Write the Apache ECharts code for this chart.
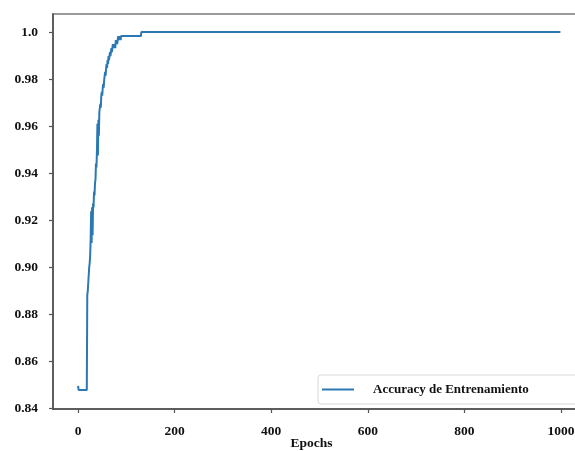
<!DOCTYPE html>
<html>
<head>
<meta charset="utf-8">
<script src="https://cdn.jsdelivr.net/npm/echarts@6/dist/echarts.min.js"></script>
<style>
  html, body { margin: 0; padding: 0; background: #fff; }
</style>
</head>
<body>
<div id="acc_chart" style="width:575px;height:451px;"></div>
<script>
  // training accuracy (epoch -> accuracy)
  var epochs = [0, 1, 18, 19, 20, 21, 22, 23, 24, 25, 26, 27, 28, 29, 30, 31, 32, 33, 34, 35, 36, 37, 38, 39,
    40, 41, 42, 43, 44, 45, 46, 47, 48, 49, 50, 51, 52, 53, 54, 55, 56, 57, 58, 59, 60, 61, 62, 63,
    64, 65, 66, 67, 68, 69, 70, 71, 72, 73, 74, 75, 76, 77, 78, 79, 80, 81, 82, 83, 84, 85, 86, 87,
    88, 89, 90, 130, 131, 999]
  var accuracy = [0.8494, 0.8477, 0.8477, 0.8881, 0.8898, 0.8932, 0.8966, 0.9000, 0.9017, 0.9051, 0.9119, 0.9237,
    0.9102, 0.9254, 0.9136, 0.9271, 0.9254, 0.9322, 0.9305, 0.9356, 0.9373, 0.9441, 0.9424, 0.9492,
    0.9610, 0.9475, 0.9627, 0.9559, 0.9661, 0.9678, 0.9695, 0.9678, 0.9729, 0.9746, 0.9729, 0.9763,
    0.9780, 0.9763, 0.9797, 0.9814, 0.9831, 0.9814, 0.9847, 0.9864, 0.9847, 0.9881, 0.9864, 0.9898,
    0.9881, 0.9898, 0.9915, 0.9898, 0.9915, 0.9932, 0.9915, 0.9932, 0.9949, 0.9932, 0.9949, 0.9932,
    0.9949, 0.9932, 0.9966, 0.9949, 0.9966, 0.9949, 0.9966, 0.9983, 0.9966, 0.9983, 0.9966, 0.9983,
    0.9966, 0.9983, 0.9983, 0.9983, 1.0, 1.0]
  var xTicks = [0, 200, 400, 600, 800, 1000]
  var yTicks = [0.84, 0.86, 0.88, 0.90, 0.92, 0.94, 0.96, 0.98, 1.0]
  var seriesName = 'Accuracy de Entrenamiento'

  var points = []
  epochs.map(function (e, i) {
    points.push([e, accuracy[i]])
  })

  var font = 'Liberation Serif, Times New Roman, serif'
  var chart = echarts.init(document.getElementById('acc_chart'))
  chart.setOption({
    backgroundColor: '#fff',
    animation: false,
    grid: {
      left: 53,
      top: 14,
      width: 533,
      height: 395,
      outerBoundsMode: 'none',
      containLabel: false,
      show: true,
      borderColor: '#9a9a9a',
      borderWidth: 2,
      backgroundColor: 'transparent'
    },
    xAxis: {
      type: 'value',
      min: -52,
      max: 1052,
      name: 'Epochs',
      nameLocation: 'middle',
      nameGap: 28,
      nameMoveOverlap: false,
      nameTextStyle: {
        fontFamily: font,
        fontWeight: 'bold',
        fontSize: 13.5,
        color: '#111',
        padding: [0, 16, 0, 0]
      },
      splitLine: { show: false },
      axisLine: { onZero: false, lineStyle: { color: '#4a4a4a', width: 1.5 } },
      axisTick: {
        customValues: xTicks,
        length: 4,
        lineStyle: { color: '#555', width: 1.2 }
      },
      axisLabel: {
        customValues: xTicks,
        margin: 16,
        fontFamily: font,
        fontWeight: 'bold',
        fontSize: 13.5,
        color: '#111',
        formatter: function (v) {
          return String(v)
        }
      }
    },
    yAxis: {
      type: 'value',
      min: 0.8396,
      max: 1.0077,
      splitLine: { show: false },
      axisLine: { show: true, onZero: false, lineStyle: { color: '#4a4a4a', width: 1.5 } },
      axisTick: {
        show: true,
        customValues: yTicks,
        length: 4,
        lineStyle: { color: '#555', width: 1.2 }
      },
      axisLabel: {
        customValues: yTicks,
        margin: 15,
        fontFamily: font,
        fontWeight: 'bold',
        fontSize: 13.5,
        color: '#111',
        formatter: function (v) {
          return v >= 0.999 ? '1.0' : v.toFixed(2)
        }
      }
    },
    legend: {
      left: 318,
      top: 375,
      data: [seriesName],
      icon: 'rect',
      itemWidth: 32,
      itemHeight: 2,
      padding: [8, 60, 8, 4],
      backgroundColor: 'rgba(255,255,255,0.85)',
      borderColor: '#d8d8d8',
      borderWidth: 1,
      borderRadius: 3,
      textStyle: {
        fontFamily: font,
        fontWeight: 'bold',
        fontSize: 13,
        color: '#111',
        padding: [0, 0, 0, 14]
      }
    },
    series: [{
      name: seriesName,
      type: 'line',
      data: points,
      symbol: 'none',
      lineStyle: { color: '#2b78b3', width: 2 },
      itemStyle: { color: '#2b78b3' }
    }]
  })
</script>
</body>
</html>
